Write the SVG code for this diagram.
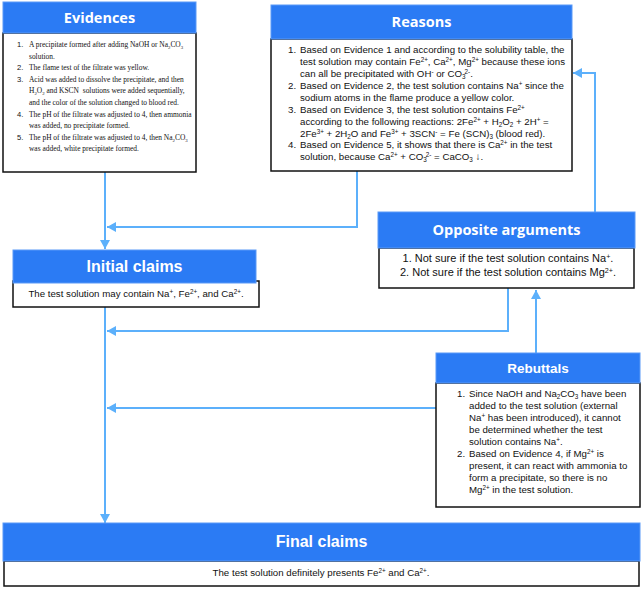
<svg xmlns="http://www.w3.org/2000/svg" width="642" height="589" viewBox="0 0 642 589">
<style>
.hdr{fill:#2b7bf4;stroke:#5a9af7;stroke-width:1}
.box{fill:#fff;stroke:#111;stroke-width:1.5}
.ht{font-family:"Open Sans","Liberation Sans",Arial,sans-serif;font-weight:bold;fill:#fff;text-anchor:middle;font-size:14.5px}
.ha{font-family:"Liberation Sans",Arial,sans-serif;font-weight:bold;fill:#fff;text-anchor:middle;font-size:16px}
.t{font-family:"Liberation Sans",Arial,sans-serif;font-size:9.7px;fill:#111}
.ev{font-family:"Liberation Serif","Times New Roman",serif;font-size:7.45px;fill:#111}
.evn{font-family:"Liberation Sans",Arial,sans-serif;font-size:7.6px;fill:#111}
.sup{font-size:65%;baseline-shift:3.5px}
.sub{font-size:65%;baseline-shift:-1.8px}
.con{fill:none;stroke:#5cb0fb;stroke-width:2}
</style>
<defs>
<marker id="arr" markerUnits="userSpaceOnUse" markerWidth="9" markerHeight="10" refX="9" refY="5" orient="auto" viewBox="0 0 9 10">
<path d="M0,0 L9,5 L0,10 z" fill="#5cb0fb"/>
</marker>
</defs>

<g id="connectors">
<path class="con" d="M105,172 V249" marker-end="url(#arr)"/>
<path class="con" d="M357,171 V227 H107" marker-end="url(#arr)"/>
<path class="con" d="M105,307 V523" marker-end="url(#arr)"/>
<path class="con" d="M508,288 V331 H107" marker-end="url(#arr)"/>
<path class="con" d="M436,408 H107" marker-end="url(#arr)"/>
<path class="con" d="M536,353 V290" marker-end="url(#arr)"/>
<path class="con" d="M595,212 V73 H573" marker-end="url(#arr)"/>
</g>

<g id="evidences">
<rect class="box" x="3" y="33" width="193" height="139"/>
<rect class="hdr" x="3" y="2" width="193" height="31"/>
<text class="ht" x="99.5" y="23">Evidences</text>
<text class="evn" x="17" y="47">1.</text>
<text class="ev" x="29" y="47">A precipitate formed after adding NaOH or Na<tspan class="sub">2</tspan>CO<tspan class="sub">3</tspan></text>
<text class="ev" x="29" y="58.6">solution.</text>
<text class="evn" x="17" y="70.2">2.</text>
<text class="ev" x="29" y="70.2">The flame test of the filtrate was yellow.</text>
<text class="evn" x="17" y="81.8">3.</text>
<text class="ev" x="29" y="81.8">Acid was added to dissolve the precipitate, and then</text>
<text class="ev" x="29" y="93.4">H<tspan class="sub">2</tspan>O<tspan class="sub">2</tspan> and KSCN <tspan dx="2">solutions were added sequentially,</tspan></text>
<text class="ev" x="29" y="105">and the color of the solution changed to blood red.</text>
<text class="evn" x="17" y="116.6">4.</text>
<text class="ev" x="29" y="116.6">The pH of the filtrate was adjusted to 4, then ammonia</text>
<text class="ev" x="29" y="128.2">was added, no precipitate formed.</text>
<text class="evn" x="17" y="139.8">5.</text>
<text class="ev" x="29" y="139.8">The pH of the filtrate was adjusted to 4, then Na<tspan class="sub">2</tspan>CO<tspan class="sub">3</tspan></text>
<text class="ev" x="29" y="151.4">was added, white precipitate formed.</text>
</g>

<g id="reasons">
<rect class="box" x="271" y="39" width="301" height="132"/>
<rect class="hdr" x="271" y="5" width="301" height="34"/>
<text class="ht" x="421.5" y="27">Reasons</text>
<text class="t" x="288" y="53">1.</text>
<text class="t" x="300" y="53">Based on Evidence 1 and according to the solubility table, the</text>
<text class="t" x="300" y="65">test solution may contain Fe<tspan class="sup">2+</tspan>, Ca<tspan class="sup">2+</tspan>, Mg<tspan class="sup">2+</tspan> because these ions</text>
<text class="t" x="300" y="77">can all be precipitated with OH<tspan class="sup">-</tspan> or CO<tspan class="sub">3</tspan><tspan class="sup" dx="-1">2-</tspan>.</text>
<text class="t" x="288" y="89">2.</text>
<text class="t" x="300" y="89">Based on Evidence 2, the test solution contains Na<tspan class="sup">+</tspan> since the</text>
<text class="t" x="300" y="101">sodium atoms in the flame produce a yellow color.</text>
<text class="t" x="288" y="113">3.</text>
<text class="t" x="300" y="113">Based on Evidence 3, the test solution contains Fe<tspan class="sup">2+</tspan></text>
<text class="t" x="300" y="124.5">according to the following reactions: 2Fe<tspan class="sup">2+</tspan> + H<tspan class="sub">2</tspan>O<tspan class="sub">2</tspan> + 2H<tspan class="sup">+</tspan> =</text>
<text class="t" x="300" y="136.5">2Fe<tspan class="sup">3+</tspan> + 2H<tspan class="sub">2</tspan>O and Fe<tspan class="sup">3+</tspan> + 3SCN<tspan class="sup">-</tspan> = Fe (SCN)<tspan class="sub">3</tspan> (blood red).</text>
<text class="t" x="288" y="148">4.</text>
<text class="t" x="300" y="148">Based on Evidence 5, it shows that there is Ca<tspan class="sup">2+</tspan> in the test</text>
<text class="t" x="300" y="160">solution, because Ca<tspan class="sup">2+</tspan> + CO<tspan class="sub">3</tspan><tspan class="sup" dx="-1">2-</tspan> = CaCO<tspan class="sub">3</tspan> ↓.</text>
</g>

<g id="opposite-arguments">
<rect class="box" x="379" y="248" width="255" height="40"/>
<rect class="hdr" x="378" y="212" width="257" height="36"/>
<text class="ht" x="506.5" y="235">Opposite arguments</text>
<text class="t" x="508" y="262" text-anchor="middle" style="font-size:11px">1. Not sure if the test solution contains Na<tspan class="sup">+</tspan>.</text>
<text class="t" x="508" y="275.5" text-anchor="middle" style="font-size:11px">2. Not sure if the test solution contains Mg<tspan class="sup">2+</tspan>.</text>
</g>

<g id="initial-claims">
<rect class="box" x="13" y="281" width="246" height="26"/>
<rect class="hdr" x="13" y="250" width="243" height="33"/>
<text class="ha" x="134.5" y="272">Initial claims</text>
<text class="t" x="136" y="297" text-anchor="middle">The test solution may contain Na<tspan class="sup">+</tspan>, Fe<tspan class="sup">2+</tspan>, and Ca<tspan class="sup">2+</tspan>.</text>
</g>

<g id="rebuttals">
<rect class="box" x="436" y="383" width="204" height="124"/>
<rect class="hdr" x="436" y="353" width="204" height="30"/>
<text class="ha" x="538" y="373" style="font-size:13.5px">Rebuttals</text>
<text class="t" x="457" y="396.5">1.</text>
<text class="t" x="469" y="396.5">Since NaOH and Na<tspan class="sub">2</tspan>CO<tspan class="sub">3</tspan> have been</text>
<text class="t" x="469" y="408.5">added to the test solution (external</text>
<text class="t" x="469" y="420.5">Na<tspan class="sup">+</tspan> has been introduced), it cannot</text>
<text class="t" x="469" y="432.5">be determined whether the test</text>
<text class="t" x="469" y="444.5">solution contains Na<tspan class="sup">+</tspan>.</text>
<text class="t" x="457" y="456.5">2.</text>
<text class="t" x="469" y="456.5">Based on Evidence 4, if Mg<tspan class="sup">2+</tspan> is</text>
<text class="t" x="469" y="468.5">present, it can react with ammonia to</text>
<text class="t" x="469" y="480.5">form a precipitate, so there is no</text>
<text class="t" x="469" y="492.5">Mg<tspan class="sup">2+</tspan> in the test solution.</text>
</g>

<g id="final-claims">
<rect class="box" x="4" y="561" width="635" height="25"/>
<rect class="hdr" x="3" y="523" width="637" height="38"/>
<text class="ha" x="321.5" y="547">Final claims</text>
<text class="t" x="321" y="576" text-anchor="middle">The test solution definitely presents Fe<tspan class="sup">2+</tspan> and Ca<tspan class="sup">2+</tspan>.</text>
</g>
</svg>
